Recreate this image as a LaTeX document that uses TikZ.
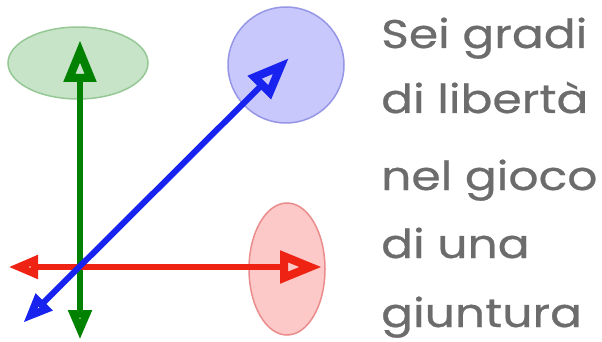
\documentclass[tikz,border=0pt]{standalone}
\usepackage{fontspec}
\setmainfont{Poppins}
\usetikzlibrary{arrows.meta,shapes.geometric}
\definecolor{gline}{RGB}{0,130,0}
\definecolor{gfill}{RGB}{200,228,200}
\definecolor{gdraw}{RGB}{150,200,150}
\definecolor{bline}{RGB}{25,35,240}
\definecolor{bfill}{RGB}{200,200,252}
\definecolor{bdraw}{RGB}{150,150,230}
\definecolor{rline}{RGB}{238,35,20}
\definecolor{rfill}{RGB}{252,200,200}
\definecolor{rdraw}{RGB}{235,140,140}
\definecolor{txt}{RGB}{108,108,108}
\tikzset{
  axisline/.style={line width=6pt},
  lbl/.style={anchor=base west, inner sep=0pt, text=txt,
    font=\fontsize{40}{40}\selectfont\addfontfeature{FakeStretch=1.18,FakeBold=0.6}},
  blob/.style={line width=1.5pt, inner sep=0pt}
}
\begin{document}
\begin{tikzpicture}[x=1pt,y=-1pt]
\useasboundingbox (0,0) rectangle (602,342);
% shapes
\node (ge) [blob, draw=gdraw, fill=gfill, ellipse, minimum width=140pt, minimum height=72pt] at (78,63) {};
\node (bc) [blob, draw=bdraw, fill=bfill, circle, minimum size=116pt] at (286,65) {};
\node (re) [blob, draw=rdraw, fill=rfill, ellipse, minimum width=76pt, minimum height=132pt] at (287,269) {};
% arrow endpoints
\coordinate (gt) at (80,40);
\coordinate (gb) at (80,340);
\coordinate (rl) at (8,267);
\coordinate (rr) at (322,267);
\coordinate (bl) at (23,323);
\coordinate (bt) at (289,58);
% arrows
\tikzset{
  smallhead/.tip={Triangle[open,length=30pt,width=22pt,line width=9pt]},
  bighead/.tip={Triangle[open,length=42pt,width=31pt,line width=8.2pt]}
}
\draw[axisline, gline, smallhead-bighead] (gb) -- (gt);
\draw[axisline, rline, smallhead-bighead] (rl) -- (rr);
\draw[axisline, bline, smallhead-bighead] (bl) -- (bt);
% text
\node (t1) [lbl] at (381,48) {Sei gradi};
\node (t2) [lbl] at (381,113) {di libertà};
\node (t3) [lbl] at (381,190) {nel gioco};
\node (t4) [lbl] at (381,258) {di una};
\node (t5) [lbl] at (381,327) {giuntura};
\end{tikzpicture}
\end{document}
